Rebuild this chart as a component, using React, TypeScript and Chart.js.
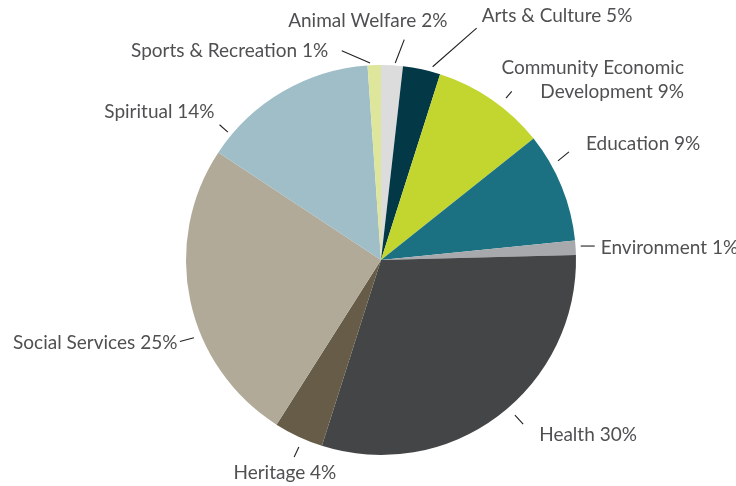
import React, { useEffect, useRef } from "react";
import { Chart, registerables } from "chart.js";

Chart.register(...registerables);

// ---- Data ----
const categories = [
  "Animal Welfare",
  "Arts & Culture",
  "Community Economic\nDevelopment",
  "Education",
  "Environment",
  "Health",
  "Heritage",
  "Social Services",
  "Spiritual",
  "Sports & Recreation",
];
const percentLabels = ["2%", "5%", "9%", "9%", "1%", "30%", "4%", "25%", "14%", "1%"];
const shares = [1.8, 3.1, 9.4, 9.1, 1.2, 30.3, 4.1, 25.3, 14.6, 1.1];

// ---- Styles ----
const colors = [
  "#dcdcdd",
  "#033846",
  "#c3d630",
  "#1b7181",
  "#a7a9ac",
  "#444547",
  "#665c48",
  "#b1aa99",
  "#9fbec8",
  "#dee69b",
];

// label layout: angle shift (deg), gap from arc, leader vector, text offset from leader end, alignment
type LabelLayout = { shift: number; gap: number; lx: number; ly: number; tx: number; ty: number; align: CanvasTextAlign };
const labelLayout: LabelLayout[] = [
  { shift: 0.9, gap: 2.5, lx: 9, ly: -23.4, tx: -36.5, ty: -19, align: "center" },
  { shift: 2.9, gap: 5, lx: 44, ly: -38.7, tx: 5, ty: -12, align: "left" },
  { shift: 3.1, gap: 9.6, lx: 5.7, ly: -6.7, tx: 172.3, ty: -23.7, align: "right" },
  { shift: -7.1, gap: 7.8, lx: 11, ly: -9, tx: 17, ty: -8, align: "left" },
  { shift: -0.4, gap: 5.2, lx: 14, ly: 0, tx: 6, ty: 2, align: "left" },
  { shift: -3.9, gap: 9.9, lx: 8.3, ly: 9, tx: 16, ty: 11, align: "left" },
  { shift: -1.3, gap: 9.2, lx: -4.7, ly: 10, tx: -9.3, ty: 16, align: "center" },
  { shift: -10.5, gap: 7.6, lx: -14, ly: 3.7, tx: -2.5, ty: 1.5, align: "right" },
  { shift: -19.9, gap: 4.5, lx: -8.3, ly: -7.4, tx: -5, ty: -12.6, align: "right" },
  { shift: -1.2, gap: 2.3, lx: -28.3, ly: -12.3, tx: -13.5, ty: 0, align: "right" },
];

const FONT = '400 19px Lato, "Open Sans", sans-serif';
const LINE_HEIGHT = 24.7;

const outsideLabels = {
  id: "outsideLabels",
  afterDatasetsDraw(chart: any) {
    const meta = chart.getDatasetMeta(0);
    const ctx: CanvasRenderingContext2D = chart.ctx;
    ctx.save();
    meta.data.forEach((arc: any, i: number) => {
      const p = arc.getProps(["x", "y", "startAngle", "endAngle", "outerRadius"], true);
      const lay = labelLayout[i];
      const mid = (p.startAngle + p.endAngle) / 2 + (lay.shift * Math.PI) / 180;
      const r = p.outerRadius + lay.gap;
      const x0 = p.x + Math.cos(mid) * r;
      const y0 = p.y + Math.sin(mid) * r;
      const x1 = x0 + lay.lx;
      const y1 = y0 + lay.ly;
      ctx.strokeStyle = "#231f20";
      ctx.lineWidth = 1.1;
      ctx.beginPath();
      ctx.moveTo(x0, y0);
      ctx.lineTo(x1, y1);
      ctx.stroke();

      const text = `${categories[i]} ${percentLabels[i]}`;
      const lines = text.split("\n");
      ctx.font = FONT;
      ctx.fillStyle = "#505052";
      ctx.textAlign = lay.align;
      ctx.textBaseline = "middle";
      lines.forEach((ln, k) => {
        ctx.fillText(ln, x1 + lay.tx, y1 + lay.ty + k * LINE_HEIGHT);
      });
    });
    ctx.restore();
  },
};

export default function App() {
  const ref = useRef<HTMLCanvasElement | null>(null);
  useEffect(() => {
    document.body.style.margin = "0";
    const canvas = ref.current;
    if (!canvas) return;
    const chart = new Chart(canvas, {
      type: "pie",
      data: {
        labels: categories.map((c) => c.replace("\n", " ")),
        datasets: [
          {
            data: shares,
            backgroundColor: colors,
            borderWidth: 0,
          },
        ],
      },
      options: {
        responsive: false,
        animation: false,
        layout: { padding: { left: 186, right: 160, top: 65, bottom: 31 } },
        plugins: {
          legend: { display: false },
          tooltip: { enabled: false },
        },
      },
      plugins: [outsideLabels],
    });
    return () => chart.destroy();
  }, []);
  return (
    <div style={{ width: 736, height: 486, background: "#ffffff" }}>
      <canvas ref={ref} width={736} height={486} />
    </div>
  );
}
